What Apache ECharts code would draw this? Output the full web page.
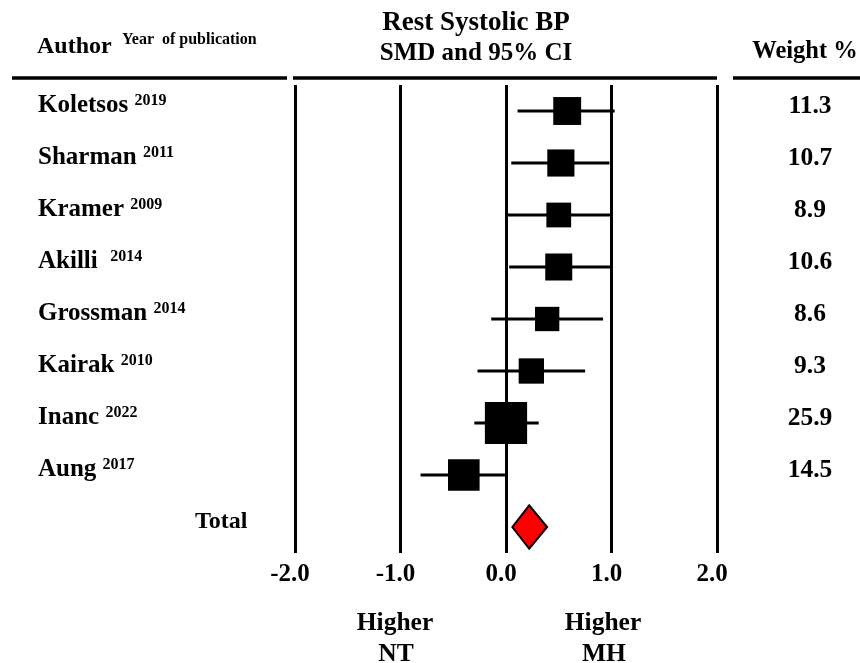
<!DOCTYPE html>
<html><head><meta charset="utf-8">
<script src="https://cdn.jsdelivr.net/npm/echarts@6/dist/echarts.min.js"></script>
<style>html,body{margin:0;padding:0;background:#fff}#c{width:860px;height:663px}</style>
</head><body><div id="c"></div>
<script>
// ---- data ----
const authors = ['Koletsos', 'Sharman', 'Kramer', 'Akilli ', 'Grossman', 'Kairak', 'Inanc', 'Aung'];
const years = ['2019', '2011', '2009', '2014', '2014', '2010', '2022', '2017'];
const smd = [0.58, 0.52, 0.50, 0.50, 0.39, 0.24, 0.00, -0.40];
const ciLow = [0.11, 0.05, 0.00, 0.03, -0.14, -0.27, -0.30, -0.81];
const ciHigh = [1.03, 0.98, 0.99, 0.99, 0.92, 0.75, 0.31, -0.01];
const weights = ['11.3', '10.7', '8.9', '10.6', '8.6', '9.3', '25.9', '14.5'];
const totalLabel = 'Total';
const totalSmd = [0.22];
const totalLow = [0.06];
const totalHigh = [0.39];
const xTickLabels = ['-2.0', '-1.0', '0.0', '1.0', '2.0'];

// ---- chart ----
const FF = '"Liberation Serif", "Times New Roman", serif';
const rows = authors.concat([totalLabel]);
const weightRows = weights.concat(['']);
const studyData = authors.map((a, i) => [smd[i], i, ciLow[i], ciHigh[i], parseFloat(weights[i])]);
const totalData = [[totalSmd[0], authors.length, totalLow[0], totalHigh[0]]];

const chart = echarts.init(document.getElementById('c'), null, {renderer: 'canvas'});
const txt = (text, x, baseline, fs, align) => ({
  type: 'text', x: x, y: baseline - 0.3375 * fs, silent: true,
  style: {text: text, fill: '#000', align: align || 'left', verticalAlign: 'middle',
    font: 'bold ' + fs + 'px ' + FF}
});
const hline = (x1, x2) => ({type: 'line', silent: true, shape: {x1: x1, y1: 78, x2: x2, y2: 78},
  style: {stroke: '#000', lineWidth: 3.5}});

chart.setOption({
  animation: false,
  backgroundColor: '#fff',
  grid: {left: 295, right: 143, top: 85, bottom: 110, containLabel: false},
  xAxis: {
    type: 'value', min: -2, max: 2, interval: 1,
    axisLine: {show: false}, axisTick: {show: false},
    splitLine: {show: true, lineStyle: {color: '#000', width: 3}},
    axisLabel: {
      color: '#000', fontFamily: FF, fontWeight: 'bold', fontSize: 25, lineHeight: 25,
      margin: 9, padding: [0, 10, 0, 0],
      formatter: v => xTickLabels[Math.round(v) + 2]
    }
  },
  yAxis: [{
    type: 'category', data: rows, inverse: true,
    axisLine: {show: false}, axisTick: {show: false}, splitLine: {show: false},
    axisLabel: {
      interval: 0, align: 'left', margin: 257, padding: [0, 0, 10, 0], color: '#000',
      formatter: (v, i) => i < authors.length ? '{n|' + v + ' }{s|' + years[i] + '}' : '{t|' + v + '}',
      rich: {
        n: {fontSize: 25, fontFamily: FF, fontWeight: 'bold', color: '#000', lineHeight: 28},
        s: {fontSize: 16, fontFamily: FF, fontWeight: 'bold', color: '#000', padding: [0, 0, 10, 0]},
        t: {fontSize: 24, fontFamily: FF, fontWeight: 'bold', color: '#000', lineHeight: 28, padding: [0, 0, 0, 157]}
      }
    }
  }, {
    type: 'category', data: weightRows, inverse: true, position: 'right',
    axisLine: {show: false}, axisTick: {show: false}, splitLine: {show: false},
    axisLabel: {
      interval: 0, align: 'center', margin: 93, padding: [0, 0, 10, 0], color: '#000',
      formatter: v => '{w|' + v + '}',
      rich: {w: {fontFamily: FF, fontWeight: 'bold', fontSize: 25.5, lineHeight: 28, color: '#000'}}
    }
  }],
  series: [{
    type: 'custom', yAxisIndex: 0, encode: {x: 0, y: 1}, data: studyData, silent: true,
    renderItem: (params, api) => {
      const y = api.value(1);
      const p = api.coord([api.value(0), y]);
      const l = api.coord([api.value(2), y]);
      const h = api.coord([api.value(3), y]);
      const s = 8.3 * Math.sqrt(api.value(4));
      return {type: 'group', children: [
        {type: 'line', shape: {x1: l[0], y1: l[1], x2: h[0], y2: h[1]}, style: {stroke: '#000', lineWidth: 3}},
        {type: 'rect', shape: {x: p[0] - s / 2, y: p[1] - s / 2, width: s, height: s}, style: {fill: '#000'}}
      ]};
    }
  }, {
    type: 'custom', yAxisIndex: 0, encode: {x: 0, y: 1}, data: totalData, silent: true,
    renderItem: (params, api) => {
      const y = api.value(1);
      const p = api.coord([api.value(0), y]);
      const l = api.coord([api.value(2), y]);
      const h = api.coord([api.value(3), y]);
      const hh = api.size([0, 1])[1] * 0.415;
      return {type: 'polygon', shape: {points: [[l[0], l[1]], [p[0], p[1] - hh], [h[0], h[1]], [p[0], p[1] + hh]]},
        style: {fill: '#ff0000', stroke: '#000', lineWidth: 2, lineJoin: 'miter'}};
    }
  }],
  graphic: [
    hline(12, 287), hline(293, 717), hline(733, 860),
    txt('Author', 37, 55, 24),
    txt('Year  of publication', 122, 45.5, 16),
    txt('Rest Systolic BP', 476, 32, 27, 'center'),
    txt('SMD and 95% CI', 476, 62, 25, 'center'),
    txt('Weight %', 805, 59.5, 24.5, 'center'),
    txt('Higher', 395, 632, 25.5, 'center'),
    txt('NT', 396, 663, 25.5, 'center'),
    txt('Higher', 603, 632, 25.5, 'center'),
    txt('MH', 604, 663, 25.5, 'center')
  ]
});
</script></body></html>
